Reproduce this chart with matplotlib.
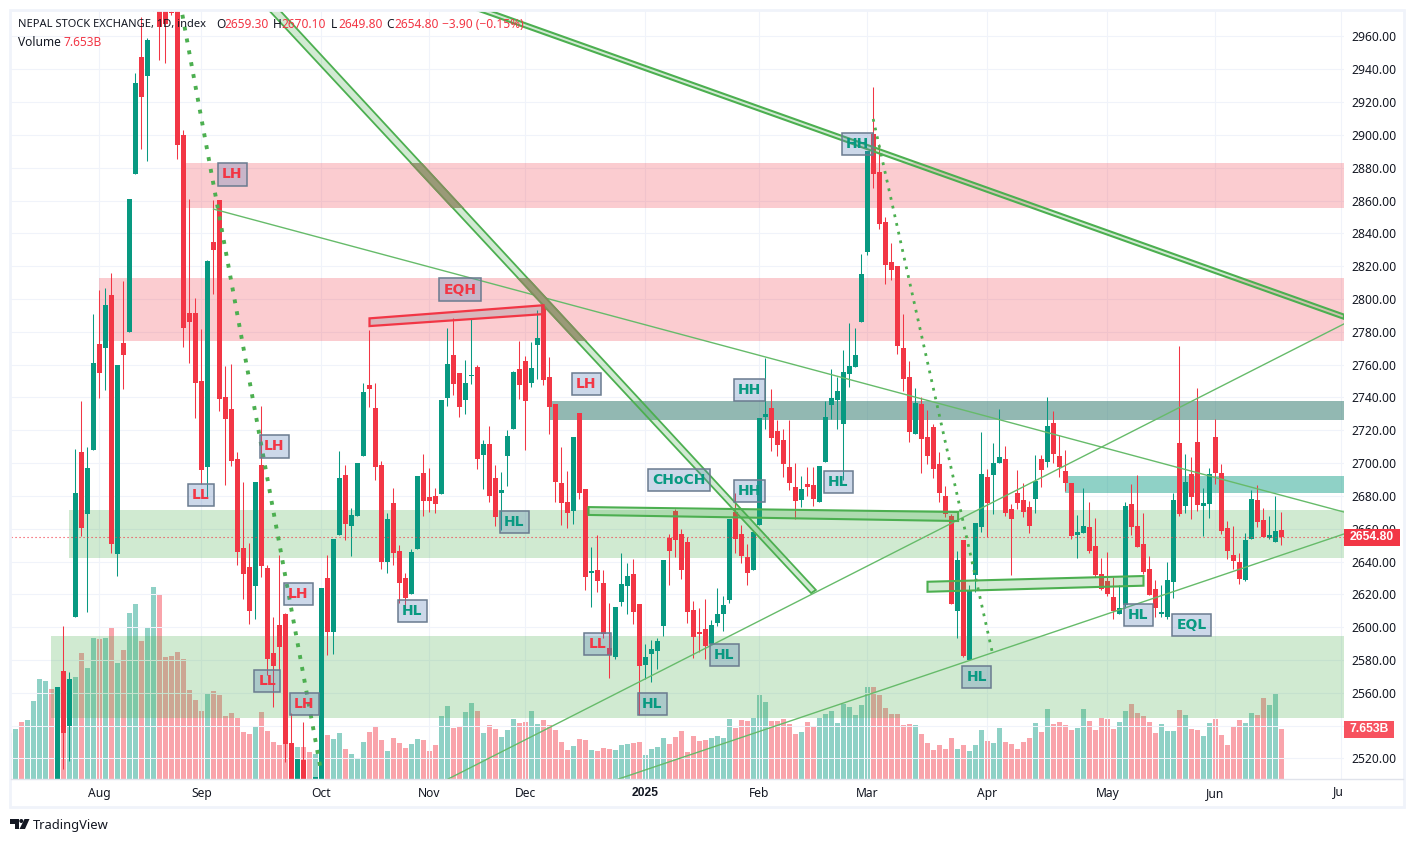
import matplotlib
matplotlib.use("Agg")
import matplotlib.pyplot as plt
from matplotlib.patches import Polygon, Rectangle, Circle
import numpy as np

# daily candles, first visible one is bar 0
opens = [2490,2573.3,2540,2606.4,2706.9,2669,2708,2772.6,2770.3,2802.4,
         2644.6,2773.2,2779.9,2876.3,2947.5,2936,2990,3005,3000,2975,
         3000,2899.9,2791.4,2791.4,2750,2697.8,2834.7,2860.3,2740.3,2733,
         2702.5,2648.2,2636.7,2625,2698.8,2636,2584.3,2601.3,2608,2529.6,
         2495,2519,2490,2495,2495,2630,2597,2656,2692.7,2661.6,
         2667.7,2704.3,2747.6,2733.6,2698.8,2639.7,2675.7,2646.4,2630,2620.2,
         2647.6,2694,2679.3,2680,2681,2739.7,2765.9,2754.9,2738.4,2753,
         2758.6,2704.9,2711.6,2690.9,2682,2704.3,2720.8,2757.3,2762.2,2748.8,
         2772,2796.3,2752.4,2736,2687.9,2676.3,2670.8,2730.5,2684.2,2633,
         2634.8,2626.9,2587.3,2581.8,2615.3,2625,2632.4,2614,2577,2583.6,
         2585.5,2600.7,2654.3,2670.8,2656.8,2651.9,2610.5,2597,2598.9,2589.8,
         2602.5,2608,2616.6,2670,2656.8,2642.8,2634.8,2662.3,2728,2733.6,
         2719.5,2714,2697.6,2685.4,2677.5,2687.2,2686.6,2676.3,2700.7,2735.4,
         2738.4,2723.8,2754.3,2758.6,2786,2828.6,2900.5,2877.4,2846.9,2822.5,
         2820.1,2770.1,2752.5,2717.7,2736,2715.9,2722,2699.4,2680,2667.7,
         2609.8,2653,2580,2631.8,2661,2691.5,2692.7,2700,2702.5,2672,
         2681.8,2677.5,2673.2,2678.1,2702.5,2700.7,2724.4,2704.3,2695.2,2687.9,
         2656,2657.4,2661,2649.5,2632.4,2628.1,2618.4,2608,2613.5,2675,
         2661.6,2650.7,2635.4,2623.3,2608,2606.2,2627.5,2712.2,2673.8,2693.3,
         2712.8,2673.8,2675,2715.9,2693.9,2660.4,2644,2639.7,2628.7,2653.7,
         2677.5,2665.3,2654.3,2651.9,2659.3]
highs = [2563.5,2600.7,2573,2708.6,2737.8,2709.8,2790.8,2805.5,2806.7,2815.8,
         2759.8,2811,2861,2937.7,2971.8,2959,3010,3015,3010,2980,
         3010,2903,2861,2800.6,2781.7,2823.8,2860.3,2860.3,2759,2760.4,
         2706.8,2688.5,2651.3,2688.5,2734.8,2638,2606,2644,2608.4,2547.7,
         2519.6,2542.2,2495,2509,2623.9,2644,2653.7,2707.4,2698.8,2672.6,
         2700.2,2748.8,2781,2748.8,2701.3,2669.6,2684.8,2650,2633,2647.6,
         2692,2705.5,2697,2684.8,2738.4,2782.3,2788.4,2754.9,2762.8,2788.4,
         2759.8,2714,2722.6,2698.8,2694.6,2720,2756,2774.4,2765.3,2773.8,
         2793.3,2797,2764.6,2736,2709.8,2695.2,2715.9,2730.5,2684.2,2648.9,
         2656.2,2634.8,2614.7,2612.3,2645.2,2639,2641.5,2614,2589.8,2592,
         2593.4,2640.9,2656.8,2672,2660,2655,2616,2611.7,2617.2,2604.4,
         2623.9,2619,2666,2681.8,2662.3,2650.7,2659,2727.5,2764,2745,
         2726.3,2720.8,2726.3,2700,2692,2697.6,2697.6,2698.2,2737.8,2757.3,
         2752.5,2768.9,2785.4,2782.3,2827.4,2890.2,2929.2,2894.4,2850,2834,
         2820.1,2790.8,2762.2,2745.8,2740,2732.3,2723.8,2706.8,2686,2669,
         2646.4,2653,2625.7,2663.5,2719,2696.4,2712.2,2733,2710.4,2675,
         2695.8,2687.9,2676.9,2704.9,2704.9,2740.3,2731.7,2717,2708,2687.9,
         2668.4,2684.8,2676.3,2666.5,2642.2,2645.8,2630.6,2625.7,2676.3,2687.2,
         2692.7,2669.6,2643.4,2628.7,2625.7,2639.7,2681.8,2771.3,2705.5,2703.7,
         2745.8,2684.8,2697,2726.9,2699.4,2664.7,2661.6,2645.2,2657.4,2683.6,
         2686.6,2672.6,2667.7,2680,2670.1]
lows = [2480,2513.6,2518.6,2606.4,2655.6,2609.4,2708,2739.6,2744.5,2645.4,
        2631.4,2745.3,2779.9,2876.3,2891.6,2884.3,2975.5,2945.6,2944,2973,
        2885.5,2771,2761,2727.5,2687,2679.5,2803,2732,2686.8,2698.2,
        2638,2617.2,2602,2605,2630.6,2570.9,2551.4,2574,2517.8,2490,
        2490,2485,2480,2490,2490,2583,2583.6,2656,2653,2643.4,
        2667.7,2704.3,2734.4,2689.7,2635.4,2633,2638,2614.9,2610.5,2620.2,
        2647.6,2667.7,2670,2669.6,2681,2734.8,2741.5,2728,2729.9,2748.2,
        2696.4,2684.2,2676.3,2661.6,2659,2686,2720.8,2739,2708,2746.4,
        2751.2,2747.6,2717.7,2676.3,2662.3,2660.4,2662.9,2678,2622.6,2612.3,
        2621.4,2593.4,2569,2580.6,2612.9,2608,2602,2546.5,2568.4,2566.6,
        2574.5,2594.6,2625.7,2643,2629.4,2602.5,2581.2,2584.9,2580.6,2589.8,
        2600.7,2597.7,2614.7,2645,2639,2625.7,2634.8,2662.3,2720.8,2707.4,
        2704.3,2691.5,2683.6,2666,2673,2680,2673.8,2676.3,2700.7,2726.9,
        2720.8,2689.7,2746.4,2758.6,2786,2826.8,2867.6,2842.6,2809.1,2811.6,
        2766.5,2744,2712.8,2717.7,2694,2699.4,2690.9,2676.3,2667,2614,
        2593.4,2581.8,2580,2621.4,2658,2655,2669,2700,2667.7,2631.8,
        2672,2667,2657.4,2669.6,2685.4,2697.6,2700,2691.5,2683,2653.7,
        2642.2,2657.4,2645.2,2630.6,2622.6,2619,2605,2608,2611.7,2656,
        2648.9,2632.4,2619.6,2606.2,2606.2,2605,2617.8,2667.7,2669.6,2666,
        2670.8,2655.6,2666.5,2687.2,2656.8,2641.5,2635.4,2626.3,2628.1,2653.7,
        2661,2655,2653.7,2651.9,2649.8]
closes = [2563.5,2535.7,2568.4,2681.8,2660.6,2697,2761,2755,2796.3,2650.7,
          2759.8,2766,2861,2931.6,2923.3,2957.8,3005,2965.9,2967.6,2974.5,
          2894,2782.3,2786,2749,2696,2823,2829.8,2739,2727,2701.3,
          2645.8,2632.4,2609.8,2688.5,2637.3,2580.6,2576.4,2587.9,2528.8,2500,
          2519.6,2495,2485,2509,2623.9,2597,2653.7,2690.9,2662.9,2668.4,
          2700.2,2743.3,2745.1,2697.6,2639.7,2666,2645.2,2627,2617.8,2645.8,
          2692,2676.9,2676.9,2675,2738.4,2760.4,2748.2,2734.2,2748.8,2753.7,
          2702.5,2711.6,2680,2667,2683.6,2716.5,2755.5,2747.6,2737.8,2758,
          2776.2,2750.6,2734.2,2688.5,2675.7,2669.6,2715.9,2681.8,2630.8,2634.2,
          2628.1,2595.8,2583,2612.3,2626.3,2631.2,2609.3,2576.4,2581.8,2586.7,
          2591.6,2640.9,2646.4,2653,2634.8,2609.3,2594,2595.8,2588.5,2601.3,
          2608,2613.5,2666,2653.7,2643.4,2633,2658,2727.5,2729.9,2715.3,
          2711,2699.4,2687.9,2676.9,2684.2,2685.4,2678.1,2698.2,2728,2739.7,
          2743.9,2755.5,2759.2,2765.9,2815.2,2890.2,2876.2,2845.7,2820.7,2817.7,
          2771.3,2751.2,2719,2736.6,2714.7,2704.3,2696.4,2681.8,2669,2614,
          2640.9,2582.4,2622.7,2663.5,2693.3,2675.7,2700,2703.7,2669.6,2666,
          2675.7,2670.2,2661.6,2689,2695.8,2722.6,2705.5,2697.6,2687.9,2655.6,
          2658,2661.6,2646.4,2631.8,2623.3,2620.2,2609.8,2611.7,2673.8,2661,
          2648.9,2633.6,2619.6,2611.7,2609.3,2628.7,2677.5,2669,2688.5,2679.3,
          2674.4,2675.7,2693.3,2693.9,2658.6,2646.4,2640.3,2629.4,2653,2678.1,
          2664,2655,2656,2658.6,2654.8]

# volume in billions, the first bars have their candles below the visible range
early_volumes = [7.16,7.73,8.81,9.12,12.05,15.45,15.14,13.9]
early_up = [True,True,False,True,True,True,True,False]
volumes = [13.9,13,15,15.76,19.47,17.15,21.78,21.63,21.78,23.48,
           17.92,19.93,25.65,27.04,21.32,23.33,29.66,28.58,18.85,19,
           19.62,18.54,13.75,12.2,10.5,13.13,13.6,12.98,9.73,10.2,
           9.42,7.26,6.95,8.19,10.35,7.42,5.72,5.25,5.56,5.5,
           4.94,4.94,4.17,3.86,4.5,6.8,6.18,7.1,4.64,3.86,
           3.24,5.72,7.26,8.19,6.03,4.33,6.33,5.56,4.79,5.41,
           6.18,6.03,4.33,5.25,9.73,11.28,7.88,8.03,10.35,11.74,
           10.5,7.1,8.34,7.73,6.49,7.57,9.27,8.65,8.81,10.5,
           8.5,9.12,8.34,7.57,5.72,4.48,5.1,6.18,6.03,4.48,
           4.33,4.79,4.64,4.48,5.25,5.41,5.56,5.72,3.71,4.64,
           4.94,6.33,5.41,6.49,7.42,4.17,6.64,5.87,6.03,6.33,
           6.64,6.33,9.27,7.88,9.12,8.96,9.42,12.98,11.9,8.96,
           8.96,9.27,8.5,6.95,7.26,8.81,8.03,9.42,10.04,10.5,
           8.65,11.59,11.12,9.89,11.43,14.21,14.21,12.98,10.97,10.04,
           10.04,8.34,8.5,8.34,6.95,5.56,4.48,5.25,4.64,6.33,
           4.64,5.25,4.33,5.25,7.57,5.87,5.56,7.88,5.72,5.41,
           4.64,5.72,6.33,8.65,7.26,10.82,8.5,8.81,8.34,7.57,
           7.88,10.82,8.96,7.57,9.42,9.27,7.73,8.81,10.5,11.59,
           10.2,9.73,8.81,7.1,8.5,7.42,7.42,10.66,9.89,7.73,
           7.57,6.64,8.65,9.27,6.8,5.25,8.03,9.12,8.65,10.2,
           9.89,12.51,11.43,13.13,7.653]

month_bars = [7, 24, 44, 62, 78, 98, 117, 135, 155, 175, 193, 214]
month_names = ["Aug", "Sep", "Oct", "Nov", "Dec", "2025", "Feb", "Mar", "Apr", "May", "Jun", ""]
price_ticks = list(range(2520, 2961, 20))

# zones: first bar, top price, bottom price, colour with alpha
zones = [(21, 2882.9, 2855.6, (0.949, 0.212, 0.271, 0.25)),
         (7, 2812.8, 2774.6, (0.949, 0.212, 0.271, 0.25)),
         (82, 2737.8, 2726.2, (0.153, 0.451, 0.404, 0.5)),
         (168, 2692.1, 2681.8, (0.031, 0.6, 0.506, 0.45)),
         (2, 2671.4, 2642.2, (0.298, 0.686, 0.314, 0.26)),
         (-1, 2594.6, 2544.6, (0.298, 0.686, 0.314, 0.26))]

# swing labels: text, bar, price
swing_labels = [("LH", 29.1, 2875.9), ("LL", 23.9, 2680.5), ("LH", 36.1, 2710.2),
                ("LL", 34.95, 2567.2), ("LH", 40.1, 2620.2), ("LH", 41.1, 2553.2),
                ("EQH", 67.1, 2805.7), ("LH", 88.1, 2748.2), ("HL", 76.1, 2664.1),
                ("CHoCH", 103.6, 2689.7), ("HL", 59.1, 2610), ("LL", 90, 2589.8),
                ("HL", 99.1, 2553.2), ("HH", 115.3, 2744.5), ("HH", 115.3, 2683),
                ("HL", 111.1, 2583), ("HL", 130.1, 2688.5), ("HH", 133.3, 2894.4),
                ("HL", 153.2, 2569.6), ("HL", 180.1, 2607.4), ("EQL", 189, 2601.3)]

# trend drawings as (bar, price) corners
channel_a = [(68.8, 2980), (214.4, 2790.5), (214.4, 2787.9), (68.8, 2977.4)]
channel_b = [(37.0, 2976.1), (126.4, 2622.7), (125.6, 2620.8), (35.2, 2976.1)]
channel_c = [(88.5, 2673.2), (150.1, 2670.2), (150.1, 2664.7), (88.5, 2668.4)]
channel_d = [(145, 2627.7), (181, 2631.2), (181, 2625.3), (145, 2621.6)]
channel_eqh = [(52, 2788.2), (81, 2796.2), (81, 2790.8), (52, 2783.5)]
thin_lines = [((26, 214.4), (2854.8, 2670.2)),
              ((65.1, 214.4), (2507.5, 2784.8)),
              ((93.5, 214.4), (2507.5, 2656.8))]
dotted_lines = [((20.45, 43.8), (2980.4, 2514.8), 2.8, (1, 2.1)),
                ((135.95, 155.9), (2909.7, 2583), 2.0, (1, 2.2))]

up_color = "#089981"
down_color = "#f23645"
line_green = "#4caf50"
grid_color = "#f0f3fa"
text_color = "#131722"
W, H = 1414, 842

plt.rcParams["font.family"] = ["Noto Sans", "DejaVu Sans"]
fig = plt.figure(figsize=(W / 100, H / 100), dpi=100, facecolor="white")
box = [11 / W, 1 - 779 / H, 1333 / W, 768 / H]

ax_vol = fig.add_axes(box, zorder=1)
ax = fig.add_axes(box, zorder=2)
ax.patch.set_visible(False)

xlim = (-7.75, 214.4167)
bar_w = 5 / 6
ax.set_xlim(xlim)
ax.set_ylim(2507.5, 2975.5)
ax_vol.set_xlim(xlim)
ax_vol.set_ylim(0, 118.7)
ax_vol.axis("off")

# volume
n_early = len(early_volumes)
vol_x = np.arange(-n_early, len(volumes))
vol_y = early_volumes + volumes
candle_up = [c >= o for o, c in zip(opens, closes)]
vol_up = early_up + candle_up
vol_colors = [up_color if u else down_color for u in vol_up]
ax_vol.bar(vol_x, vol_y, width=bar_w, color=vol_colors, alpha=0.45, linewidth=0)

# grid, the 2540 label is hidden behind the volume tag in the original
ax.set_yticks(price_ticks)
ax.set_yticklabels(["" if p == 2540 else "%.2f" % p for p in price_ticks])
ax.yaxis.tick_right()
ax.set_xticks(month_bars)
ax.set_xticklabels(month_names)
ax.tick_params(axis="both", length=0, labelsize=8.7, labelcolor=text_color)
ax.tick_params(axis="x", pad=5.5)
ax.tick_params(axis="y", pad=5.5)
year_label = ax.xaxis.get_ticklabels()[5]
year_label.set_fontfamily("Liberation Sans")
year_label.set_fontweight("bold")
ax.grid(True, color=grid_color, linewidth=0.75)
ax.set_axisbelow(True)
for s in ax.spines.values():
    s.set_visible(False)

# zones
for first, top, bottom, color in zones:
    ax.add_patch(Rectangle((first, bottom), xlim[1] - first, top - bottom,
                           facecolor=color, edgecolor="none", zorder=1))

# candles
bars = np.arange(len(opens))
colors = [up_color if u else down_color for u in candle_up]
body_low = [min(o, c) for o, c in zip(opens, closes)]
body_size = [max(abs(c - o), 0.6) for o, c in zip(opens, closes)]
ax.vlines(bars, lows, highs, colors=colors, linewidth=0.75, zorder=3)
ax.bar(bars, body_size, bottom=body_low, width=bar_w, color=colors, linewidth=0, zorder=3)

# last price line
ax.axhline(closes[-1], color=down_color, linewidth=0.8, linestyle=(0, (1, 2.6)), zorder=4)

# trend drawings
for xs, ys in thin_lines:
    ax.plot(xs, ys, color="#66bb6a", linewidth=1.0, zorder=4)
for xs, ys, lw, dash in dotted_lines:
    ax.plot(xs, ys, color=line_green, linewidth=lw, linestyle=(0, dash),
            dash_capstyle="butt", zorder=5)
for pts, width in [(channel_a, 1.5), (channel_b, 1.3), (channel_c, 1.5), (channel_d, 1.5)]:
    ax.add_patch(Polygon(pts, closed=True, facecolor=(0.298, 0.686, 0.314, 0.25),
                         edgecolor=line_green, linewidth=width, zorder=5))

# the wide channel goes muddy where it crosses the red zones
for first, top, bottom, color in zones[:2]:
    clip = Rectangle((first, bottom), xlim[1] - first, top - bottom, transform=ax.transData)
    p = Polygon(channel_b, closed=True, facecolor="#9a9a78", edgecolor="#7f8f5c", linewidth=1.3, zorder=5)
    ax.add_patch(p)
    p.set_clip_path(clip)

ax.add_patch(Polygon(channel_eqh, closed=True, facecolor=(0.47, 0.48, 0.53, 0.25),
                     edgecolor=down_color, linewidth=1.6, zorder=5))

# labels
for text, x, y in swing_labels:
    c = down_color if text in ("LH", "LL", "EQH") else up_color
    ax.text(x, y, text, color=c, fontsize=10, fontfamily="DejaVu Sans", fontweight="bold",
            ha="center", va="center", zorder=6,
            bbox=dict(boxstyle="square,pad=0.3", facecolor=(0.345, 0.5, 0.725, 0.3),
                      edgecolor="#6a7b8f", linewidth=1.1))


# everything below sits at fixed spots on the page, so use a page sized overlay
page = fig.add_axes([0, 0, 1, 1], zorder=3)
page.set_xlim(0, W)
page.set_ylim(H, 0)
page.axis("off")

page.add_patch(Rectangle((10, 10), 1394, 797, facecolor="none", edgecolor=grid_color, linewidth=2))
page.plot([11, 1403], [779, 779], color="#e0e3eb", linewidth=1)
page.text(1333, 792, "Ju", fontsize=8.7, color=text_color, va="center")


def head(x, y, s, color=text_color, size=8.6):
    page.text(x, y, s, fontsize=size, color=color, va="center", ha="left")


head(18, 25, "NEPAL STOCK EXCHANGE, 1D, index", size=8.0)
head(216, 25, "O")
head(224, 25, "2659.30", down_color)
head(273, 25, "H")
head(281, 25, "2670.10", down_color)
head(331, 25, "L")
head(338, 25, "2649.80", down_color)
head(386, 25, "C")
head(394, 25, "2654.80", down_color)
head(442, 25, "−3.90 (−0.15%)", down_color)
head(18, 42, "Volume")
head(64, 42, "7.653B", down_color)

# price and volume tags on the scale
page.add_patch(Rectangle((1344, 529), 56, 17, facecolor=down_color, edgecolor="none"))
page.text(1372, 537.5, "2654.80", color="white", fontsize=8.7, fontfamily="Liberation Sans",
          fontweight="bold", ha="center", va="center")
page.add_patch(Rectangle((1344, 721), 50, 17, facecolor="#f7525f", edgecolor="none"))
page.text(1369, 729.5, "7.653B", color="white", fontsize=8.7, fontfamily="Liberation Sans",
          fontweight="bold", ha="center", va="center")

# TradingView mark
logo = "#131722"
page.add_patch(Polygon([(10, 819), (19, 819), (19, 829), (14.5, 829), (14.5, 823.5), (10, 823.5)], facecolor=logo))
page.add_patch(Circle((21.3, 821), 2, facecolor=logo))
page.add_patch(Polygon([(24.5, 819), (29.5, 819), (25, 829), (19.5, 829)], facecolor=logo))
page.text(33, 825, "TradingView", fontsize=9.3, color=logo, va="center")

fig.savefig("out.png", dpi=100)
